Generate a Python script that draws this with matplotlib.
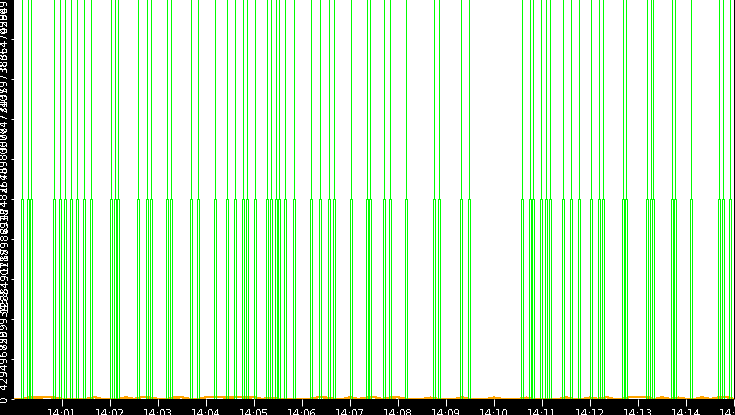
import matplotlib
matplotlib.use("Agg")
import matplotlib.pyplot as plt
from matplotlib.ticker import FixedLocator, FuncFormatter

# seconds after 14:00:00 where the counter jumps (green series)
spike_times = [10, 17.5, 21.25, 50, 56.75, 63.75, 71.25, 78.75, 87.5, 95.5,
               121.25, 126.25, 130, 154.25, 165.5, 171, 191.25, 196.25, 221.25, 230,
               251.25, 266.25, 276.25, 285.5, 291.25, 301.25, 315.5, 321.25, 327.5, 331.25,
               338, 349.25, 371.25, 382.5, 393.75, 399.25, 421.25, 441.25, 445, 462.5,
               470, 490, 525, 531.25, 558.75, 568.75, 635, 645, 648.75, 658.75,
               665, 670, 686.25, 696.25, 706.25, 721.25, 731.25, 736.25, 761.25, 765,
               791.25, 796.25, 798.75, 822.5, 826.25, 846.25, 881.25, 886.25, 895]
spike_top = 4294967296
spike_mid = 2147483648

# orange series, one value every 10 s, in millions
orange_t = list(range(0, 910, 10))
orange_m = [0, 0, 18, 15, 20, 16, 0, 0, 0, 0,
            20, 0, 0, 0, 18, 0, 22, 15, 0, 0,
            16, 18, 0, 0, 20, 22, 18, 15, 20, 16,
            18, 0, 15, 0, 0, 0, 0, 0, 20, 16,
            0, 0, 18, 0, 15, 20, 0, 16, 18, 0,
            0, 0, 15, 0, 0, 0, 18, 0, 0, 0,
            16, 0, 0, 0, 15, 0, 0, 0, 0, 18,
            0, 0, 16, 0, 20, 0, 0, 22, 25, 22,
            0, 18, 0, 15, 0, 0, 18, 0, 16, 20,
            0]

tick_minutes = list(range(1, 16))
y_ticks = [k * spike_top / 10 for k in range(11)]

plt.rcParams['text.antialiased'] = False

fig = plt.figure(figsize=(7.35, 4.15), dpi=100, facecolor='black')
ax = fig.add_axes([14.3 / 735, 16 / 415, 720 / 735, 400 / 415])
ax.set_facecolor('white')

# orange first, green drawn over it
ax.plot(orange_t, [v * 1e6 for v in orange_m], color='#ffa500', lw=0.9,
        antialiased=False)

xs, ys = [0], [0]
hw = 1.25
for t in spike_times:
    xs += [t - hw, t - hw, t, t, t, t + hw, t + hw]
    ys += [0, spike_mid, spike_mid, spike_top, spike_mid, spike_mid, 0]
xs.append(900)
ys.append(0)
ax.plot(xs, ys, color='#00ff00', lw=0.72, antialiased=False)

ax.set_xlim(0, 900)
ax.set_ylim(0, spike_top)

ax.xaxis.set_major_locator(FixedLocator([m * 60 for m in tick_minutes]))
ax.xaxis.set_major_formatter(FuncFormatter(lambda v, p: "14:%02d" % int(round(v / 60))))
ax.set_yticks(y_ticks)
ax.set_yticklabels(["%d" % v for v in y_ticks], rotation=90, va='center')

ax.tick_params(axis='x', colors='white', length=5, width=0.72, pad=2.0, labelsize=7.5)
ax.tick_params(axis='y', colors='white', length=2.5, width=0.72, pad=1.0, labelsize=7.5)
for s in ax.spines.values():
    s.set_visible(False)

fig.savefig('out.png', dpi=100, facecolor='black')
